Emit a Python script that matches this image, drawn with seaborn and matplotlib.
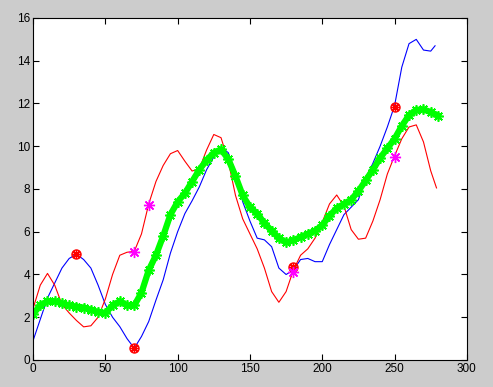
import matplotlib
matplotlib.use("Agg")
import matplotlib.pyplot as plt
import seaborn as sns

# ============================
# Data
# ============================
x_blue = [0, 5, 10, 15, 20, 25, 30, 35, 40, 45, 50, 55, 60, 65, 70, 75, 80, 85, 90,
          95, 100, 105, 110, 115, 120, 125, 130, 135, 140, 145, 150, 155, 160, 165,
          170, 175, 180, 185, 190, 195, 200, 205, 210, 215, 220, 225, 230, 235, 240,
          245, 250, 255, 260, 265, 270, 275, 278]
y_blue = [0.9, 1.9, 2.9, 3.6, 4.3, 4.75, 4.95, 4.7, 4.3, 3.5, 2.6, 2.0, 1.56, 1.0, 0.55,
          1.1, 1.8, 2.8, 3.75, 5.0, 6.0, 6.85, 7.45, 8.1, 8.9, 9.5, 9.95, 9.7, 8.8, 7.4,
          6.5, 5.7, 5.62, 5.3, 4.3, 4.0, 4.2, 4.7, 4.75, 4.6, 4.6, 5.4, 6.1, 6.8, 7.15,
          7.5, 8.5, 9.2, 10.0, 10.9, 11.9, 13.7, 14.8, 15.0, 14.5, 14.45, 14.7]

x_red = [0, 5, 10, 15, 20, 25, 30, 35, 40, 45, 50, 55, 60, 65, 70, 75, 80, 85, 90,
         95, 100, 105, 110, 115, 120, 125, 130, 135, 140, 145, 150, 155, 160, 165,
         170, 175, 180, 185, 190, 195, 200, 205, 210, 215, 220, 225, 230, 235, 240,
         245, 250, 255, 260, 265, 270, 275, 279]
y_red = [2.4, 3.5, 4.05, 3.5, 2.6, 2.2, 1.85, 1.55, 1.6, 2.0, 2.85, 4.0, 4.9, 5.04, 5.08,
         5.9, 7.3, 8.35, 9.1, 9.65, 9.8, 9.3, 8.84, 8.95, 9.82, 10.55, 10.4, 9.3, 7.7,
         6.6, 5.9, 5.2, 4.3, 3.2, 2.7, 3.2, 4.2, 4.9, 5.2, 5.7, 6.45, 7.3, 7.72, 7.2,
         6.1, 5.65, 5.7, 6.5, 7.5, 8.7, 9.55, 10.35, 10.9, 11.0, 10.2, 8.85, 8.05]

x_green = [0, 5, 10, 15, 20, 25, 30, 35, 40, 45, 50, 55, 60, 65, 70, 75, 80, 85, 90,
           95, 100, 105, 110, 115, 120, 125, 130, 135, 140, 145, 150, 155, 160, 165,
           170, 175, 180, 185, 190, 195, 200, 205, 210, 215, 220, 225, 230, 235, 240,
           245, 250, 255, 260, 265, 270, 275, 280]
y_green = [2.15, 2.55, 2.75, 2.75, 2.65, 2.55, 2.5, 2.45, 2.35, 2.25, 2.2, 2.55, 2.75,
           2.55, 2.55, 3.15, 4.2, 4.9, 5.8, 6.8, 7.4, 7.8, 8.35, 8.9, 9.35, 9.7, 9.85,
           9.4, 8.6, 7.7, 7.15, 6.85, 6.4, 6.05, 5.7, 5.5, 5.6, 5.75, 5.9, 6.05, 6.3,
           6.75, 7.1, 7.3, 7.5, 7.9, 8.4, 8.9, 9.45, 9.9, 10.35, 10.95, 11.45, 11.7,
           11.72, 11.6, 11.43]

# sample points
x_knots_red = [30, 70, 180, 250]
y_knots_red = [4.95, 0.55, 4.35, 11.85]
x_knots_mag = [70, 80, 180, 250]
y_knots_mag = [5.05, 7.25, 4.1, 9.5]

x_ticks = [0, 50, 100, 150, 200, 250, 300]
y_ticks = [0, 2, 4, 6, 8, 10, 12, 14, 16]

# ============================
# Plot
# ============================
plt.rcParams["font.family"] = ["Liberation Sans", "DejaVu Sans"]

fig = plt.figure(figsize=(4.93, 3.87), dpi=100, facecolor="#cccccc")
ax = fig.add_axes([0.067, 0.0698, 0.88, 0.8837])
ax.set_facecolor("white")

asterisk = (8, 2, 0)

sns.lineplot(x=x_blue, y=y_blue, color="#0000ff", linewidth=0.8, ax=ax,
             estimator=None, sort=False)
sns.lineplot(x=x_red, y=y_red, color="#ff0000", linewidth=0.8, ax=ax,
             estimator=None, sort=False)
# thick band of asterisks
sns.lineplot(x=x_green, y=y_green, color="#00ff00", linewidth=4.5, ax=ax,
             estimator=None, sort=False, marker=asterisk, markersize=7.5,
             markeredgewidth=1.2, markeredgecolor="#00ff00")

# red circles with asterisks, magenta asterisks
ax.plot(x_knots_red, y_knots_red, "o", color="#ff0000", markerfacecolor="none",
        markersize=6.5, markeredgewidth=1.0)
ax.plot(x_knots_red, y_knots_red, linestyle="none", marker=asterisk,
        color="#ff0000", markersize=6.5, markeredgewidth=1.0)
ax.plot(x_knots_mag, y_knots_mag, linestyle="none", marker=asterisk,
        color="#ff00ff", markersize=8, markeredgewidth=1.0)

ax.set_xlim(0, 300)
ax.set_ylim(0, 16)
ax.set_xticks(x_ticks)
ax.set_yticks(y_ticks)
ax.tick_params(direction="in", top=True, right=True, length=4, width=0.8,
               labelsize=8.5, colors="black", pad=2)
for s in ax.spines.values():
    s.set_linewidth(0.8)
    s.set_color("black")

fig.savefig("out.png", dpi=100, facecolor=fig.get_facecolor())
